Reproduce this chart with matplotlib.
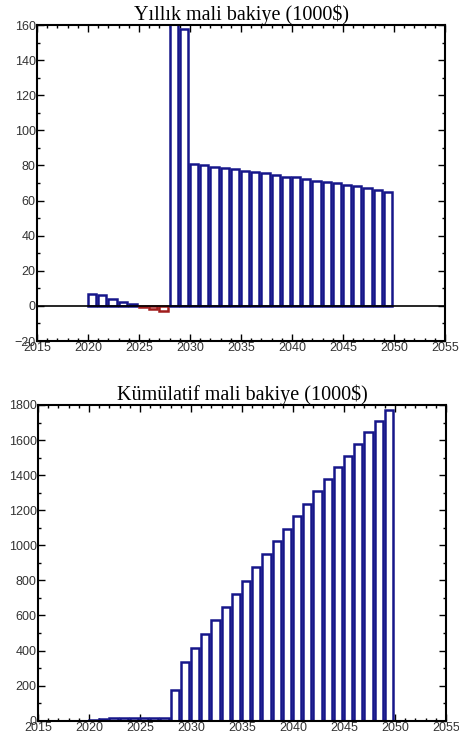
import matplotlib.pyplot as plt
from matplotlib.ticker import MultipleLocator
import numpy as np

# years (left edge of each bar)
years = list(range(2020, 2050))

# annual balance (1000$)
annual = [7, 6, 4, 2.5, 1, -0.5, -1.5, -3, 162, 158,
          81, 80, 79.3, 78.4, 78, 77.1, 76.1, 75.7, 74.8, 73.6,
          73.2, 72.1, 71.1, 70.7, 69.8, 68.6, 68.3, 67.1, 66, 65]

# cumulative balance (1000$)
cumulative = [5, 10, 14, 17, 18, 17, 16, 13, 176, 335,
              417, 494, 575, 650, 722, 798, 875, 949, 1025, 1095,
              1167, 1238, 1308, 1376, 1445, 1511, 1578, 1644, 1711, 1772]

titles = ['Yıllık mali bakiye (1000$)', 'Kümülatif mali bakiye (1000$)']

navy = '#16168a'
red = '#a01c1c'

fig = plt.figure(figsize=(4.59, 7.42), dpi=100)
ax1 = fig.add_axes([0.0806, 0.5404, 0.889, 0.4259])
ax2 = fig.add_axes([0.0828, 0.0287, 0.889, 0.4255])


def style(ax, ymin, ymax, ymaj, ymin_step):
    ax.set_xlim(2015, 2055)
    ax.set_ylim(ymin, ymax)
    ax.xaxis.set_major_locator(MultipleLocator(5))
    ax.xaxis.set_minor_locator(MultipleLocator(1))
    ax.yaxis.set_major_locator(MultipleLocator(ymaj))
    ax.yaxis.set_minor_locator(MultipleLocator(ymin_step))
    ax.tick_params(which='both', direction='in', top=True, right=True,
                   labelsize=9, labelcolor='#333333', pad=1, width=1)
    ax.tick_params(which='major', length=5)
    ax.tick_params(which='minor', length=2.5)
    for lab in ax.get_xticklabels() + ax.get_yticklabels():
        lab.set_family('Liberation Sans')
    for s in ax.spines.values():
        s.set_linewidth(1.5)


edge1 = [red if v < 0 else navy for v in annual]
ax1.bar(years, annual, width=0.8, align='edge', color='white',
        edgecolor=edge1, linewidth=1.8, zorder=2)
ax1.axhline(0, color='black', linewidth=1.2, zorder=3)
style(ax1, -20, 160, 20, 10)
ax1.set_title(titles[0], family='Liberation Serif', fontsize=14.5, pad=1)

ax2.bar(years, cumulative, width=0.8, align='edge', color='white',
        edgecolor=navy, linewidth=1.8, zorder=2)
style(ax2, 0, 1800, 200, 100)
ax2.set_title(titles[1], family='Liberation Serif', fontsize=14.5, pad=3)

fig.savefig('out.png', dpi=100)
